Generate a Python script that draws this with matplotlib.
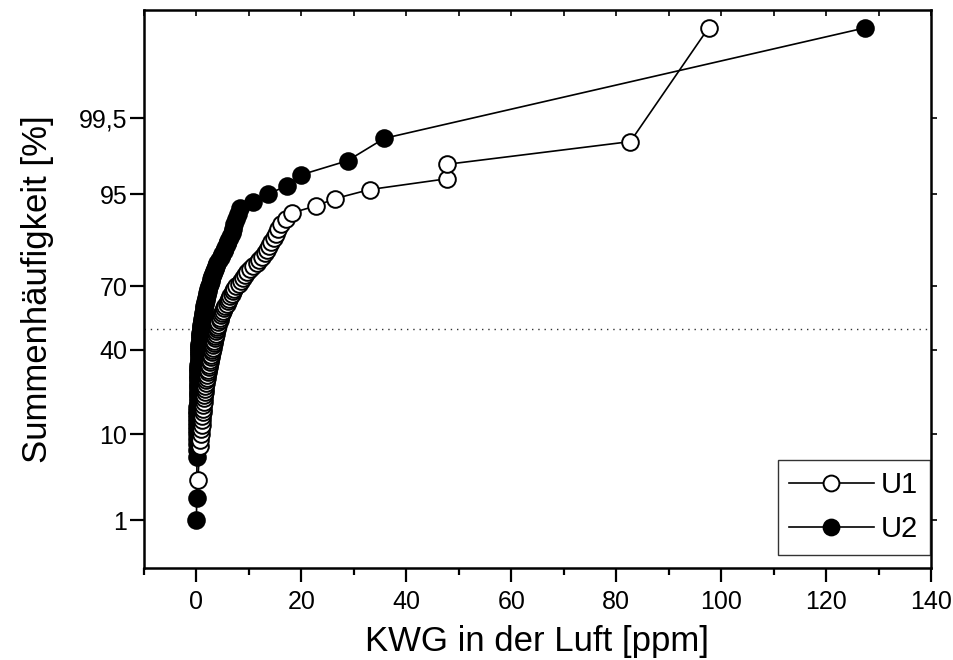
from statistics import NormalDist

import numpy as np
import matplotlib
matplotlib.use("Agg")
import matplotlib.pyplot as plt
from matplotlib.ticker import FixedLocator, FixedFormatter, MultipleLocator, NullLocator

# Cumulative frequency (%) of hydrocarbon concentration in air (ppm)
u1_ppm = [0.3, 0.6, 0.7, 0.8, 0.9, 1.0, 1.05, 1.1, 1.2, 1.25,
          1.3, 1.4, 1.45, 1.5, 1.55, 1.6, 1.7, 1.8, 1.9, 2.0,
          2.1, 2.2, 2.3, 2.35, 2.4, 2.5, 2.6, 2.7, 2.8, 2.9,
          3.0, 3.1, 3.2, 3.3, 3.4, 3.5, 3.6, 3.7, 3.8, 3.9,
          4.0, 4.1, 4.2, 4.4, 4.5, 4.7, 4.8, 5.0, 5.2, 5.5,
          5.8, 6.0, 6.2, 6.4, 6.7, 6.9, 7.2, 7.6, 8.1, 8.5,
          8.9, 9.3, 9.7, 10.2, 10.8, 11.6, 12.0, 12.5, 13.0, 13.4,
          13.8, 14.3, 14.7, 15.1, 15.5, 16.2, 17.1, 18.3, 22.7, 26.5,
          33.0, 47.8, 47.8, 82.7, 97.6]
u1_pct = [3.33, 7.78, 8.89, 10.0, 11.11, 12.22, 13.33, 14.44, 15.56, 16.67,
          17.78, 18.89, 20.0, 21.11, 22.22, 23.33, 24.44, 25.56, 26.67, 27.78,
          28.89, 30.0, 31.11, 32.22, 33.33, 34.44, 35.56, 36.67, 37.78, 38.89,
          40.0, 41.11, 42.22, 43.33, 44.44, 45.56, 46.67, 47.78, 48.89, 50.0,
          51.11, 52.22, 53.33, 54.44, 55.56, 56.67, 57.78, 58.89, 60.0, 61.11,
          62.22, 63.33, 64.44, 65.56, 66.67, 67.78, 68.89, 70.0, 71.11, 72.22,
          73.33, 74.44, 75.56, 76.67, 77.78, 78.89, 80.0, 81.11, 82.22, 83.33,
          84.44, 85.56, 86.67, 87.78, 88.89, 90.0, 91.11, 92.22, 93.33, 94.44,
          95.56, 96.67, 97.78, 98.89, 99.988]

u2_ppm = [0.0, 0.05, 0.1, 0.12, 0.12, 0.13, 0.14, 0.15, 0.15, 0.16,
          0.17, 0.18, 0.19, 0.2, 0.21, 0.22, 0.23, 0.24, 0.25, 0.26,
          0.27, 0.28, 0.3, 0.31, 0.32, 0.33, 0.35, 0.36, 0.37, 0.38,
          0.4, 0.41, 0.43, 0.45, 0.46, 0.48, 0.5, 0.52, 0.55, 0.58,
          0.6, 0.65, 0.68, 0.72, 0.76, 0.8, 0.85, 0.9, 0.95, 1.0,
          1.05, 1.12, 1.2, 1.25, 1.3, 1.38, 1.45, 1.5, 1.6, 1.65,
          1.75, 1.85, 1.95, 2.1, 2.2, 2.3, 2.4, 2.55, 2.7, 2.85,
          3.0, 3.2, 3.4, 3.6, 3.8, 4.0, 4.3, 4.6, 4.9, 5.2,
          5.5, 5.8, 6.1, 6.4, 6.7, 7.0, 7.2, 7.5, 7.9, 8.3,
          10.7, 13.6, 17.3, 19.9, 28.8, 35.8, 127.4]
u2_pct = [1, 2, 6, 7, 8, 9, 10, 11, 12, 13,
          14, 15, 16, 17, 18, 19, 20, 21, 22, 23,
          24, 25, 26, 27, 28, 29, 30, 31, 32, 33,
          34, 35, 36, 37, 38, 39, 40, 41, 42, 43,
          44, 45, 46, 47, 48, 49, 50, 51, 52, 53,
          54, 55, 56, 57, 58, 59, 60, 61, 62, 63,
          64, 65, 66, 67, 68, 69, 70, 71, 72, 73,
          74, 75, 76, 77, 78, 79, 80, 81, 82, 83,
          84, 85, 86, 87, 88, 89, 90, 91, 92, 93,
          94, 95, 96, 97, 98, 99, 99.988]

y_ticks = [1, 10, 40, 70, 95, 99.5]
y_tick_labels = ["1", "10", "40", "70", "95", "99,5"]
x_ticks = [0, 20, 40, 60, 80, 100, 120, 140]

_nd = NormalDist()
_ppf = np.vectorize(_nd.inv_cdf, otypes=[float])
_cdf = np.vectorize(_nd.cdf, otypes=[float])


def to_probit(p):
    p = np.asarray(p, dtype=float)
    bad = ~np.isfinite(p)
    q = np.clip(np.where(bad, 50.0, p) / 100.0, 1e-12, 1 - 1e-12)
    z = _ppf(q)
    return np.where(bad, np.nan, z)


def from_probit(z):
    z = np.asarray(z, dtype=float)
    bad = ~np.isfinite(z)
    p = _cdf(np.where(bad, 0.0, z)) * 100.0
    return np.where(bad, np.nan, p)


plt.rcParams["font.family"] = ["Liberation Sans", "DejaVu Sans"]

fig = plt.figure(figsize=(9.54, 6.6), dpi=100)
ax = fig.add_axes([0.1509, 0.1394, 0.825, 0.8454])

ax.set_yscale("function", functions=(to_probit, from_probit))
ax.set_xlim(-10, 140)
ax.set_ylim(0.18, 99.995)

# reference line at the median
ax.axhline(50, color="0.2", lw=1.0, ls=(0, (1, 3.5)), zorder=1)

mk = dict(markersize=12, markeredgewidth=1.4, lw=1.2, color="black",
          markeredgecolor="black")
ax.plot(u2_ppm, u2_pct, marker="o", markerfacecolor="black", label="U2",
        zorder=2, **mk)
ax.plot(u1_ppm, u1_pct, marker="o", markerfacecolor="white", label="U1",
        zorder=3, **mk)

ax.yaxis.set_major_locator(FixedLocator(y_ticks))
ax.yaxis.set_major_formatter(FixedFormatter(y_tick_labels))
ax.yaxis.set_minor_locator(NullLocator())
ax.xaxis.set_major_locator(FixedLocator(x_ticks))
ax.xaxis.set_minor_locator(MultipleLocator(10))

ax.tick_params(axis="both", which="major", direction="out", length=10,
               width=1.6, labelsize=18)
ax.tick_params(axis="x", which="major", pad=6)
ax.tick_params(axis="y", which="major", pad=2)
ax.tick_params(axis="x", which="minor", direction="out", length=5, width=1.6)

for s in ax.spines.values():
    s.set_linewidth(1.8)

# mirrored ticks on the top and right frame
ax_top = ax.twiny()
ax_top.set_xlim(ax.get_xlim())
ax_top.xaxis.set_major_locator(MultipleLocator(10))
ax_top.tick_params(axis="x", direction="in", length=4, width=1.2,
                   labeltop=False, top=True)
ax_right = ax.twinx()
ax_right.set_yscale("function", functions=(to_probit, from_probit))
ax_right.set_ylim(ax.get_ylim())
ax_right.yaxis.set_major_locator(FixedLocator(y_ticks))
ax_right.yaxis.set_minor_locator(NullLocator())
ax_right.tick_params(axis="y", direction="out", length=4, width=1.2,
                     labelright=False, right=True)
for a in (ax_top, ax_right):
    for s in a.spines.values():
        s.set_visible(False)

ax.set_xlabel("KWG in der Luft [ppm]", fontsize=25, labelpad=8)
ax.set_ylabel("Summenhäufigkeit [%]", fontsize=25, labelpad=18)

handles, labels = ax.get_legend_handles_labels()
order = [labels.index("U1"), labels.index("U2")]
leg = ax.legend([handles[i] for i in order], [labels[i] for i in order],
                loc="lower right", bbox_to_anchor=(0.9987, 0.0233),
                borderaxespad=0, fontsize=21, handlelength=2.9,
                markerscale=0.95, frameon=True, fancybox=False,
                borderpad=0.4, labelspacing=0.55, handletextpad=0.25)
leg.get_frame().set_edgecolor("black")
leg.get_frame().set_linewidth(1.0)
leg.set_zorder(5)

fig.savefig("out.png", dpi=100)
